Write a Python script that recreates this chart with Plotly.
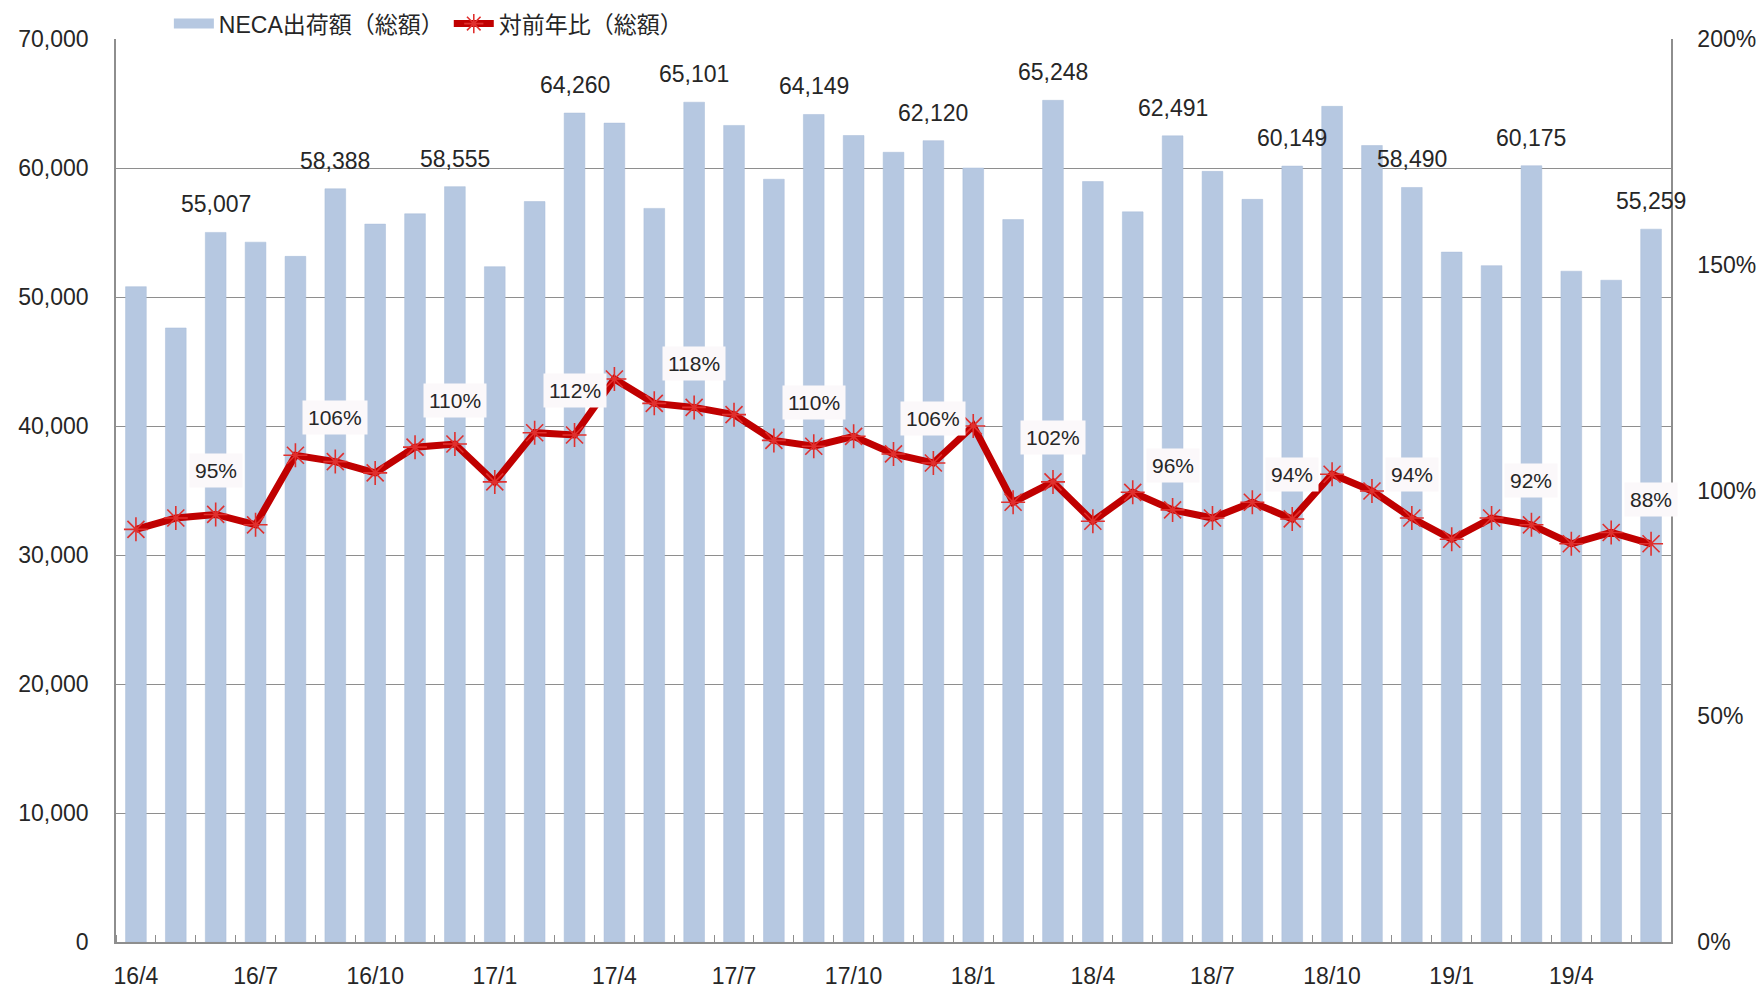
import plotly.graph_objects as go

categories = [
    "16/4", "16/5", "16/6", "16/7", "16/8", "16/9", "16/10", "16/11", "16/12",
    "17/1", "17/2", "17/3", "17/4", "17/5", "17/6", "17/7", "17/8", "17/9",
    "17/10", "17/11", "17/12", "18/1", "18/2", "18/3", "18/4", "18/5", "18/6",
    "18/7", "18/8", "18/9", "18/10", "18/11", "18/12", "19/1", "19/2", "19/3",
    "19/4", "19/5", "19/6",
]

shipments = [
    50800, 47600, 55007, 54250, 53150, 58388, 55650, 56450, 58555,
    52350, 57400, 64260, 63480, 56870, 65101, 63300, 59130, 64149,
    62520, 61220, 62120, 60000, 56000, 65248, 58950, 56600, 62491,
    59740, 57570, 60149, 64780, 61740, 58490, 53480, 52430, 60175,
    52000, 51300, 55259,
]

yoy_pct = [
    91.4, 93.9, 94.7, 92.4, 107.8, 106.4, 103.9, 109.6, 110.3,
    101.9, 112.8, 112.3, 124.7, 119.3, 118.4, 116.8, 111.1, 109.8,
    112.0, 108.1, 106.1, 114.3, 97.4, 101.9, 93.2, 99.6, 95.7,
    93.9, 97.4, 93.7, 103.6, 99.9, 93.9, 89.2, 93.9, 92.4,
    88.2, 90.7, 88.2,
]

label_idx = list(range(2, len(categories), 3))
tick_idx = list(range(0, len(categories), 3))

bar_name = "NECA出荷額（総額）"
line_name = "対前年比（総額）"

FONT = "Liberation Sans, Noto Sans CJK JP, sans-serif"
TXT = "#262626"
GRID = "#8e8e8e"
BAR = "#B6C8E1"

x = list(range(len(categories)))

fig = go.Figure()
fig.add_trace(go.Bar(
    x=x, y=shipments, name=bar_name, showlegend=False,
    marker=dict(color=BAR, line=dict(color="#A9BCD8", width=0.5)),
    width=0.52, yaxis="y",
))
# legend proxy giving the bar series a wide rectangular swatch
fig.add_trace(go.Scatter(
    x=[None], y=[None], name=bar_name, mode="lines",
    line=dict(color=BAR, width=12), yaxis="y",
))
fig.add_trace(go.Scatter(
    x=x, y=yoy_pct, name=line_name, yaxis="y2", mode="lines+markers",
    line=dict(color="#C00000", width=7),
    marker=dict(symbol="asterisk-open", size=20,
                line=dict(color="#E0302E", width=1.6), color="#E0302E"),
))

annotations = []
for i in label_idx:
    annotations.append(dict(
        x=x[i], y=shipments[i], xref="x", yref="y",
        text=f"{shipments[i]:,}", showarrow=False,
        yanchor="middle", yshift=28,
        font=dict(family=FONT, size=23, color=TXT),
    ))
    annotations.append(dict(
        x=x[i], y=yoy_pct[i], xref="x", yref="y2",
        text=f"{yoy_pct[i]:.0f}%", showarrow=False,
        yanchor="middle", yshift=44,
        bgcolor="#FBF8FA", borderpad=5,
        font=dict(family=FONT, size=21, color=TXT),
    ))

fig.update_layout(
    width=1758, height=989,
    template="none",
    paper_bgcolor="white", plot_bgcolor="white",
    margin=dict(l=116, r=87, t=39, b=47, pad=0, autoexpand=False),
    font=dict(family=FONT, size=23, color=TXT),
    showlegend=True,
    legend=dict(
        orientation="h", x=0.034, xanchor="left", y=1.017, yanchor="middle",
        font=dict(family=FONT, size=23, color=TXT),
        bgcolor="rgba(0,0,0,0)", itemwidth=40, traceorder="normal",
    ),
    annotations=annotations,
    xaxis=dict(
        range=[-0.5, len(categories) - 0.5],
        tickmode="array",
        tickvals=[x[i] for i in tick_idx],
        ticktext=[categories[i] for i in tick_idx],
        ticks="", showgrid=False, zeroline=False,
        showline=True, linecolor=GRID, linewidth=1.5,
        ticklabelstandoff=13,
        tickfont=dict(family=FONT, size=23, color=TXT),
        minor=dict(tick0=0.5, dtick=1, ticks="inside", ticklen=7,
                   tickcolor=GRID, tickwidth=1.2, showgrid=False),
        automargin=False,
    ),
    yaxis=dict(
        range=[0, 70000], dtick=10000, tickformat=",d",
        showgrid=True, gridcolor=GRID, gridwidth=1.3,
        zeroline=False, showline=True, linecolor=GRID, linewidth=1.5,
        ticks="", ticklabelstandoff=21,
        tickfont=dict(family=FONT, size=23, color=TXT),
        automargin=False,
    ),
    yaxis2=dict(
        range=[0, 200], dtick=50, ticksuffix="%", overlaying="y", side="right",
        showgrid=False, zeroline=False, showline=True, linecolor=GRID,
        linewidth=1.5, ticks="", ticklabelstandoff=20,
        tickfont=dict(family=FONT, size=23, color=TXT),
        automargin=False,
    ),
)

fig.write_html(
    "out.html",
    config={"displayModeBar": False},
    post_script="document.body.style.margin='0';",
)
